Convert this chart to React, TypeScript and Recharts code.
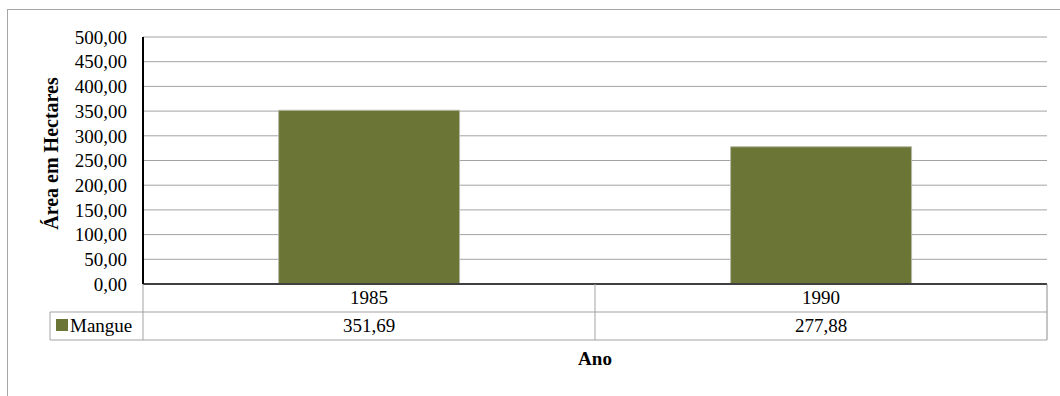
import { useEffect } from "react";
import { BarChart, Bar, XAxis, YAxis, CartesianGrid, Label } from "recharts";

const years = ["1985", "1990"];
const mangue = [351.69, 277.88];
const yTicks = [0, 50, 100, 150, 200, 250, 300, 350, 400, 450, 500];
const seriesName = "Mangue";

const data = years.map((year, i) => ({ year, mangue: mangue[i] }));

const OLIVE = "#6b7536";
const LINE = "#a3a3a3";
const FONT = '"Liberation Serif", "Times New Roman", serif';

const fmt = (v: number) => v.toFixed(2).replace(".", ",");

// x axis tick that also draws the data table under the plot
function TableTick(props: any) {
  const { x, y, payload, width, visibleTicksCount, index } = props;
  const cw = width / visibleTicksCount;
  const left = x - cw / 2;
  const right = x + cw / 2;
  const rowH = 28;
  return (
    <g>
      <line x1={left} y1={y} x2={left} y2={y + rowH * 2} stroke={LINE} />
      {index === visibleTicksCount - 1 && (
        <line x1={right} y1={y} x2={right} y2={y + rowH * 2} stroke="#8c8c8c" />
      )}
      <line x1={left} y1={y + rowH} x2={right} y2={y + rowH} stroke={LINE} />
      <line x1={left} y1={y + rowH * 2} x2={right} y2={y + rowH * 2} stroke={LINE} />
      <text x={x} y={y + 20} textAnchor="middle" fontSize={19} fontFamily={FONT} fill="#000">
        {payload.value}
      </text>
      <text x={x} y={y + rowH + 20} textAnchor="middle" fontSize={19} fontFamily={FONT} fill="#000">
        {fmt(mangue[index])}
      </text>
      {index === 0 && (
        <g>
          <line x1={left - 93} y1={y + rowH} x2={left} y2={y + rowH} stroke={LINE} />
          <line x1={left - 93} y1={y + rowH * 2} x2={left} y2={y + rowH * 2} stroke={LINE} />
          <line x1={left - 93} y1={y + rowH} x2={left - 93} y2={y + rowH * 2} stroke={LINE} />
          <rect x={left - 87} y={y + rowH + 7} width={12} height={12} fill={OLIVE} />
          <text x={left - 73} y={y + rowH + 20} fontSize={19} fontFamily={FONT} fill="#000">
            {seriesName}
          </text>
        </g>
      )}
    </g>
  );
}

export default function App() {
  useEffect(() => {
    document.body.style.margin = "0";
  }, []);

  return (
    <div style={{ position: "relative", width: 1060, height: 396, overflow: "hidden", background: "#fff" }}>
      <div
        style={{
          position: "absolute",
          left: 7,
          top: 9,
          width: 1070,
          height: 420,
          border: "1px solid #a6a6a6",
          boxSizing: "border-box",
        }}
      />
      <BarChart
        width={1060}
        height={396}
        data={data}
        margin={{ top: 37, right: 13, left: 0, bottom: 0 }}
        barCategoryGap="30%"
        style={{ position: "absolute", left: 0, top: 0 }}
      >
        <CartesianGrid vertical={false} stroke={LINE} />
        <XAxis
          dataKey="year"
          height={112}
          tickLine={false}
          tickSize={0}
          tickMargin={0}
          axisLine={{ stroke: "#404040", strokeWidth: 2 }}
          tick={<TableTick />}
          interval={0}
        >
          <Label
            value="Ano"
            position="insideBottom"
            offset={31}
            style={{ fontFamily: FONT, fontSize: 19, fontWeight: "bold", fill: "#000" }}
          />
        </XAxis>
        <YAxis
          width={143}
          domain={[0, 500]}
          ticks={yTicks}
          interval={0}
          tickLine={false}
          tickMargin={10}
          tickFormatter={fmt}
          axisLine={{ stroke: "#000", strokeWidth: 2 }}
          tick={{ fontFamily: FONT, fontSize: 19, fill: "#000" }}
          label={{
            content: (p: any) => {
              const vb = p.viewBox;
              const cx = vb.x + 51;
              const cy = vb.y + vb.height / 2 - 7;
              return (
                <text
                  x={cx}
                  y={cy}
                  transform={`rotate(-90 ${cx} ${cy})`}
                  textAnchor="middle"
                  dominantBaseline="central"
                  fontFamily={FONT}
                  fontSize={20}
                  fontWeight="bold"
                  fill="#000"
                >
                  Área em Hectares
                </text>
              );
            },
          }}
        />
        <Bar dataKey="mangue" name={seriesName} fill={OLIVE} stroke="#b9b9a9" strokeWidth={1} isAnimationActive={false} />
      </BarChart>
    </div>
  );
}
